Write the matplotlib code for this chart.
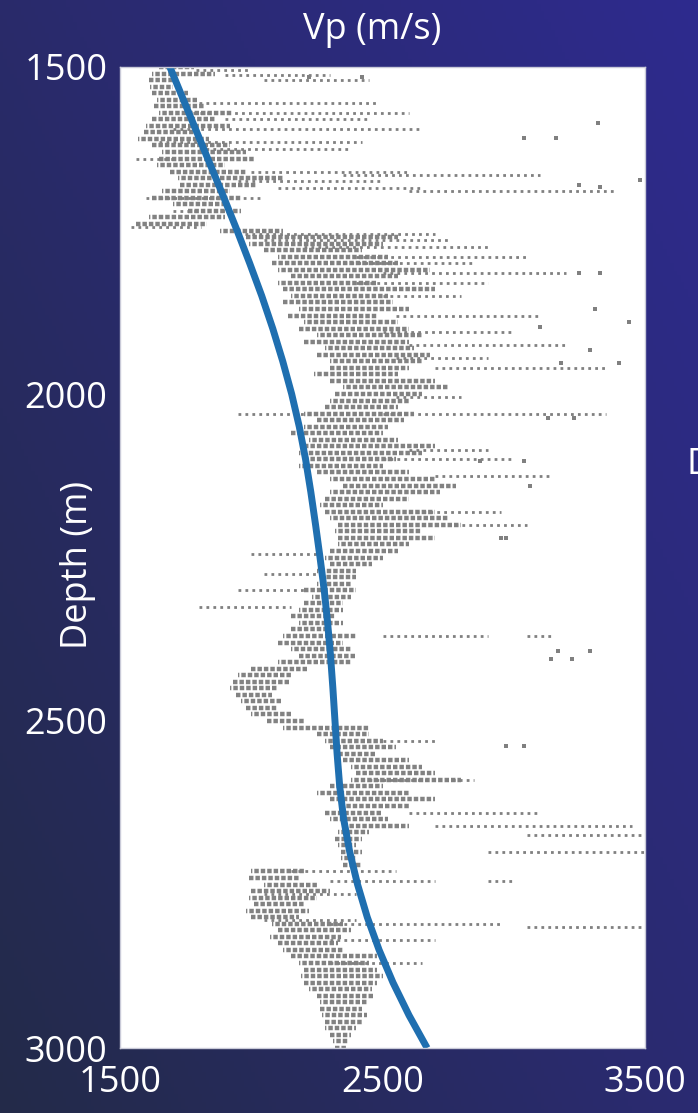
import numpy as np
import matplotlib.pyplot as plt
from matplotlib.colors import LinearSegmentedColormap

# sonic log, dense part: one row every 10 m, min/max Vp in m/s
core_depth = list(range(1500, 3001, 10))
core_lo = [1650, 1620, 1610, 1615, 1620, 1640, 1630, 1650, 1620, 1600,
           1590, 1570, 1620, 1660, 1650, 1640, 1690, 1720, 1730, 1660,
           1620, 1700, 1760, 1610, 1560, 1880, 1980, 1990, 2050, 2100,
           2080, 2100, 2150, 2100, 2120, 2150, 2120, 2180, 2140, 2200,
           2180, 2250, 2200, 2280, 2250, 2300, 2300, 2240, 2300, 2350,
           2320, 2300, 2280, 2200, 2250, 2200, 2150, 2220, 2200, 2180,
           2200, 2180, 2250, 2300, 2350, 2300, 2280, 2260, 2280, 2300,
           2330, 2320, 2330, 2330, 2300, 2280, 2300, 2250, 2260, 2250,
           2200, 2230, 2200, 2180, 2150, 2180, 2150, 2120, 2100, 2150,
           2180, 2100, 2000, 1950, 1930, 1920, 1940, 1960, 1980, 2000,
           2060, 2120, 2250, 2280, 2300, 2320, 2350, 2380, 2400, 2380,
           2300, 2250, 2300, 2350, 2280, 2300, 2350, 2330, 2320, 2330,
           2340, 2340, 2350, 2000, 1990, 2050, 2000, 1990, 2010, 1980,
           2000, 2080, 2100, 2070, 2100, 2120, 2150, 2180, 2200, 2190,
           2200, 2220, 2250, 2260, 2260, 2270, 2280, 2280, 2300, 2310,
           2320]
core_hi = [1780, 1860, 1720, 1700, 1760, 1800, 1820, 1930, 1860, 1920,
           1800, 1840, 1920, 1980, 2010, 1900, 1980, 2120, 2020, 1920,
           1960, 1910, 1960, 1900, 1830, 2120, 2560, 2500, 2420, 2520,
           2560, 2680, 2560, 2480, 2700, 2520, 2540, 2600, 2480, 2560,
           2600, 2650, 2600, 2620, 2680, 2650, 2600, 2560, 2700, 2750,
           2650, 2600, 2560, 2620, 2580, 2520, 2500, 2560, 2700, 2650,
           2550, 2500, 2600, 2700, 2780, 2720, 2600, 2500, 2700, 2750,
           2800, 2650, 2700, 2600, 2560, 2500, 2460, 2400, 2400, 2380,
           2400, 2380, 2350, 2350, 2320, 2350, 2300, 2400, 2350, 2380,
           2400, 2380, 2220, 2150, 2150, 2100, 2080, 2120, 2100, 2150,
           2200, 2450, 2450, 2500, 2550, 2480, 2600, 2650, 2700, 2800,
           2500, 2600, 2700, 2600, 2500, 2520, 2600, 2450, 2420, 2400,
           2420, 2400, 2420, 2200, 2180, 2250, 2300, 2250, 2200, 2220,
           2180, 2350, 2380, 2340, 2330, 2350, 2480, 2450, 2480, 2500,
           2480, 2460, 2470, 2440, 2420, 2440, 2420, 2400, 2380, 2370,
           2360]

# sparse horizontal runs of samples
streak_depth = [1505, 1512, 1520, 1555, 1570, 1580, 1595, 1615, 1625, 1640,
                1660, 1665, 1675, 1685, 1690, 1700, 1720, 1745, 1755, 1765,
                1775, 1790, 1800, 1815, 1830, 1850, 1880, 1905, 1925, 1945,
                1960, 2005, 2030, 2030, 2085, 2100, 2125, 2180, 2200, 2245,
                2275, 2300, 2325, 2370, 2370, 2530, 2590, 2640, 2660, 2675,
                2700, 2730, 2745, 2745, 2765, 2805, 2810, 2815, 2835, 2870]
streak_lo = [1790, 1900, 2050, 1800, 1750, 1900, 1700, 1650, 1800, 1560,
             2000, 2350, 1950, 2100, 2600, 1600, 1700, 1540, 1950, 2050,
             2200, 2400, 2300, 2500, 2400, 2500, 2550, 2500, 2600, 2550,
             2700, 2550, 1950, 2500, 2600, 2500, 2700, 2600, 2750, 2000,
             2050, 1950, 1800, 2500, 3050, 2500, 2450, 2600, 2700, 3050,
             2900, 2150, 2300, 2900, 2050, 2050, 2300, 3050, 2300, 2300]
streak_hi = [2000, 2300, 2450, 2480, 2600, 2450, 2650, 2420, 2380, 1700,
             2600, 3100, 2500, 2650, 3380, 2050, 1900, 1810, 2700, 2750,
             2900, 3050, 2850, 3200, 2900, 2800, 3100, 3000, 3200, 2900,
             3350, 2800, 2250, 3350, 2900, 3000, 3150, 2950, 3050, 2250,
             2250, 2200, 2150, 2900, 3150, 2700, 2850, 3100, 3450, 3500,
             3500, 2550, 2700, 3000, 2400, 2400, 2950, 3500, 2700, 2650]

# isolated samples
dot_depth = [1515, 1515, 1585, 1609, 1609, 1673, 1680, 1683, 1815, 1815,
             1898, 1933, 1953, 1953, 2036, 2036, 2140, 2220, 2220, 2405,
             2405, 2538, 2538, 1870, 1890, 2102, 2102, 2393, 2393]
dot_vp = [2220, 2420, 3320, 3040, 3160, 3480, 3250, 3330, 3250, 3330,
          3100, 3290, 3180, 3400, 3130, 3230, 3060, 2950, 2970, 3140,
          3220, 2970, 3040, 3310, 3440, 2870, 3040, 3170, 3290]

# compaction trend
trend_depth = [1500, 1600, 1700, 1750, 1800, 1850, 1900, 1950, 2000, 2050,
               2100, 2150, 2200, 2250, 2300, 2350, 2400, 2450, 2500, 2550,
               2600, 2650, 2700, 2750, 2800, 2850, 2900, 2950, 3000]
trend_vp = [1690, 1793, 1896, 1946, 1994, 2040, 2082, 2120, 2154, 2183,
            2207, 2227, 2245, 2262, 2278, 2291, 2302, 2311, 2319, 2327,
            2337, 2352, 2375, 2405, 2442, 2487, 2540, 2601, 2670]

W, H = 698, 1113
plt.rcParams['font.family'] = ['Open Sans', 'DejaVu Sans']
fig = plt.figure(figsize=(W / 100, H / 100), dpi=100)

# diagonal navy-to-indigo backdrop
bg = fig.add_axes([0, 0, 1, 1], zorder=-5)
gx, gy = np.meshgrid(np.linspace(0, 1, 200), np.linspace(0, 1, 300))
bg_cmap = LinearSegmentedColormap.from_list('bg', ['#232a49', '#2a2b6e', '#2e2a8e'])
bg.imshow(0.55 * gx + 0.45 * gy, cmap=bg_cmap, origin='lower',
          aspect='auto', extent=[0, 1, 0, 1])
bg.axis('off')

ax = fig.add_axes([120 / W, 1 - 1048 / H, 525 / W, (1048 - 67) / H])
ax.set_facecolor('white')

# staggered dash offsets on alternate rows so the log reads as speckle
row_styles = [(0, (1.0, 0.45)), (0.7, (1.0, 0.45))]
ax.hlines(core_depth, core_lo, core_hi, color='#828282', linewidth=3.2,
          linestyles=row_styles)
ax.hlines(streak_depth, streak_lo, streak_hi, color='#808080', linewidth=2.0,
          linestyles=[(0, (1.0, 1.5))])
ax.scatter(dot_vp, dot_depth, s=5, marker='s', color='#808080', linewidths=0)
ax.plot(trend_vp, trend_depth, color='#1f6fb0', linewidth=5,
        solid_capstyle='butt', solid_joinstyle='round')

ax.set_xlim(1500, 3500)
ax.set_ylim(3000, 1500)
ax.set_xticks([1500, 2500, 3500])
ax.set_yticks([1500, 2000, 2500, 3000])
ax.tick_params(length=0, colors='white', labelsize=26)
ax.tick_params(axis='x', pad=12)
ax.tick_params(axis='y', pad=9)
for s in ax.spines.values():
    s.set_color('#c9cad8')
    s.set_linewidth(1)

fig.text(372 / W, 1 - 30 / H, 'Vp (m/s)', color='white', fontsize=26,
         ha='center', va='center')
fig.text(78 / W, 1 - 565 / H, 'Depth (m)', color='white', fontsize=26,
         ha='center', va='center', rotation=90)
# start of the neighbouring panel's label, running off the right edge
fig.text(686 / W, 1 - 465 / H, 'D', color='white', fontsize=26,
         ha='left', va='center')

fig.savefig('out.png', dpi=100)
